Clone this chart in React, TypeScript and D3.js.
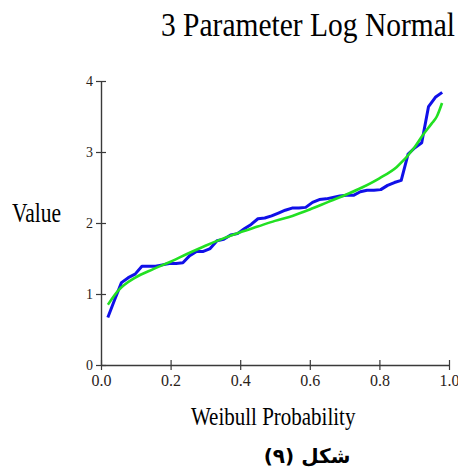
import { useEffect, useRef } from 'react';
import * as d3 from 'd3';

// Weibull plotting positions i/(n+1), n = 50
const probabilities = [
    0.0196, 0.0392, 0.0588, 0.0784, 0.0980, 0.1176, 0.1373, 0.1569, 0.1765, 0.1961,
    0.2157, 0.2353, 0.2549, 0.2745, 0.2941, 0.3137, 0.3333, 0.3529, 0.3725, 0.3922,
    0.4118, 0.4314, 0.4510, 0.4706, 0.4902, 0.5098, 0.5294, 0.5490, 0.5686, 0.5882,
    0.6078, 0.6275, 0.6471, 0.6667, 0.6863, 0.7059, 0.7255, 0.7451, 0.7647, 0.7843,
    0.8039, 0.8235, 0.8431, 0.8627, 0.8824, 0.9020, 0.9216, 0.9412, 0.9608, 0.9804,
];

const observed = [
    0.67, 0.92, 1.16, 1.23, 1.28, 1.39, 1.39, 1.39, 1.41, 1.43,
    1.43, 1.44, 1.54, 1.60, 1.60, 1.64, 1.75, 1.77, 1.83, 1.85,
    1.92, 1.98, 2.06, 2.07, 2.10, 2.14, 2.18, 2.21, 2.21, 2.22,
    2.29, 2.33, 2.34, 2.36, 2.38, 2.39, 2.39, 2.44, 2.46, 2.46,
    2.47, 2.53, 2.57, 2.60, 2.97, 3.06, 3.13, 3.64, 3.77, 3.84,
];

// fitted 3 parameter log normal curve
const fitProb = [0.02, 0.05, 0.1, 0.15, 0.2, 0.25, 0.3, 0.35, 0.4, 0.45, 0.5, 0.55, 0.6, 0.65, 0.7, 0.75, 0.8, 0.85, 0.9, 0.925, 0.95, 0.965, 0.98];
const fitValue = [0.85, 1.05, 1.235, 1.35, 1.455, 1.57, 1.68, 1.78, 1.87, 1.95, 2.03, 2.1, 2.19, 2.29, 2.39, 2.5, 2.63, 2.79, 3.06, 3.24, 3.4, 3.5, 3.69];

const xTicks = [0, 0.2, 0.4, 0.6, 0.8, 1.0];
const yTicks = [0, 1, 2, 3, 4];

const App = () => {
    const svgRef = useRef<SVGSVGElement>(null);

    useEffect(() => {
        if (!svgRef.current) return;
        const svg = d3.select(svgRef.current);
        svg.selectAll('*').remove();

        const xScale = d3.scaleLinear().domain([0, 1]).range([101, 449]);
        const yScale = d3.scaleLinear().domain([0, 4]).range([365, 81]);
        const serif = '"Liberation Serif", "Times New Roman", serif';
        const axisColor = '#3a3a3a';

        // title (text is tall and narrow in the original, so stretch it vertically)
        svg.append('text')
            .attr('transform', 'translate(455,36) scale(1,1.12)')
            .style('text-anchor', 'end')
            .style('font-family', serif)
            .style('font-size', '29.5px')
            .style('fill', '#000')
            .text('3 Parameter Log Normal');

        // axes
        const xAxis = svg.append('g')
            .attr('transform', `translate(0,${yScale(0)})`)
            .call(d3.axisBottom(xScale).tickValues(xTicks).tickSize(5).tickSizeOuter(0).tickFormat(d3.format('.1f')));
        const yAxis = svg.append('g')
            .attr('transform', `translate(${xScale(0)},0)`)
            .call(d3.axisLeft(yScale).tickValues(yTicks).tickSize(5).tickSizeOuter(0).tickFormat(d3.format('d')));

        [xAxis, yAxis].forEach(ax => {
            ax.select('.domain').attr('stroke', axisColor).attr('stroke-width', 1.4);
            ax.selectAll('.tick line').attr('stroke', axisColor).attr('stroke-width', 1.2);
            ax.selectAll('.tick text').style('font-family', serif).style('fill', '#2a2218');
        });
        xAxis.selectAll('.tick line').attr('y1', -5).attr('y2', 5);
        xAxis.selectAll('.tick text').attr('y', 10).style('font-size', '16px');
        yAxis.selectAll('.tick line').attr('x1', -5).attr('x2', 5);
        yAxis.selectAll('.tick text').attr('x', -8).attr('dy', '0.34em').style('font-size', '14px');

        // axis labels
        svg.append('text')
            .attr('transform', 'translate(12,222) scale(1,1.3)')
            .style('font-family', serif)
            .style('font-size', '21.5px')
            .text('Value');

        svg.append('text')
            .attr('transform', 'translate(191,425) scale(1,1.22)')
            .style('font-family', serif)
            .style('font-size', '21px')
            .text('Weibull Probability');

        svg.append('text')
            .attr('x', 307)
            .attr('y', 463)
            .style('text-anchor', 'middle')
            .style('font-family', '"DejaVu Sans", sans-serif')
            .style('font-weight', 'bold')
            .style('font-size', '20px')
            .text('شكل (٩)');

        // observed data
        const line = d3.line<number>()
            .x((_, i) => xScale(probabilities[i]))
            .y(d => yScale(d));

        svg.append('path')
            .datum(observed)
            .attr('d', line)
            .attr('fill', 'none')
            .attr('stroke', '#1010e8')
            .attr('stroke-width', 3)
            .attr('stroke-linejoin', 'round');

        // fitted curve
        const fitLine = d3.line<number>()
            .x((_, i) => xScale(fitProb[i]))
            .y(d => yScale(d))
            .curve(d3.curveMonotoneX);

        svg.append('path')
            .datum(fitValue)
            .attr('d', fitLine)
            .attr('fill', 'none')
            .attr('stroke', '#22e022')
            .attr('stroke-width', 2.6);
    }, []);

    return (
        <svg
            ref={svgRef}
            width={458}
            height={475}
            style={{ position: 'absolute', left: 0, top: 0, background: '#fff' }}
        />
    );
};

export default App;
